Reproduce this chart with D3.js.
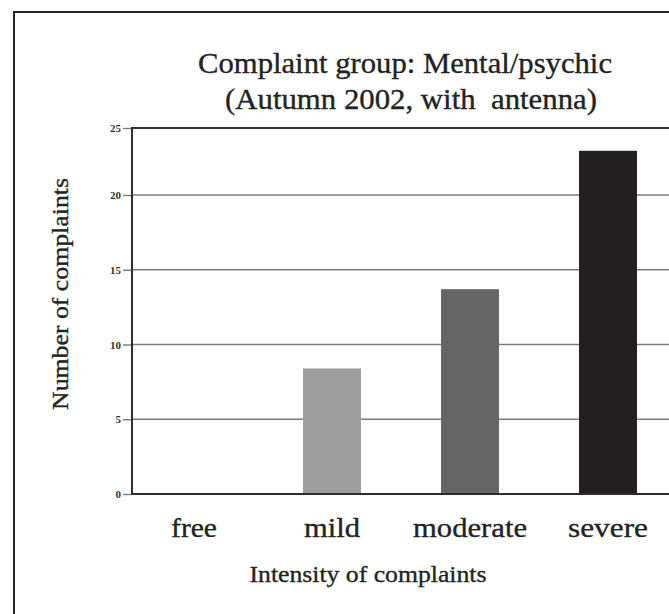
<!DOCTYPE html>
<html>
<head>
<meta charset="utf-8">
<script src="https://cdn.jsdelivr.net/npm/d3@7"></script>
<style>
  html, body { margin: 0; padding: 0; background: #ffffff; }
  svg { display: block; }
</style>
</head>
<body>
<svg id="chart" width="669" height="614"></svg>
<script>
// ---- data ----
const categories = ["free", "mild", "moderate", "severe"];
const values = [0, 8.4, 13.7, 23.3];
const barColors = ["#ffffff", "#9b9d9f", "#656667", "#231f20"];
const yTicks = [0, 5, 10, 15, 20, 25];
const titleLines = ["Complaint group: Mental/psychic", "(Autumn 2002, with  antenna)"];
const xTitle = "Intensity of complaints";
const yTitle = "Number of complaints";

// ---- layout ----
const serif = "'Liberation Serif'";
const ink = "#232323";
const svg = d3.select("#chart");
const plotLeft = 132, plotBottom = 494, plotRight = 700;

const x = d3.scaleBand().domain(categories).range([125, 677]).padding(0);
const y = d3.scaleLinear().domain([0, 20, 25]).range([plotBottom, 195, 128]);
const barW = x.bandwidth() * 0.42;

function styleText(sel, size) {
  return sel.style("font-family", serif).attr("font-size", size)
    .attr("fill", ink).attr("stroke", ink).attr("stroke-width", 0.35)
    .style("white-space", "pre");
}

// outer border
svg.append("rect")
  .attr("x", 14).attr("y", 12).attr("width", 700).attr("height", 700)
  .attr("fill", "#ffffff").attr("stroke", "#262626").attr("stroke-width", 2);

// title
const titleMeta = [{y: 73, cx: 405, w: 414}, {y: 109, cx: 411, w: 372}];
styleText(svg.selectAll("text.title").data(titleLines).enter().append("text"), 29)
  .attr("class", "title")
  .attr("x", (d, i) => titleMeta[i].cx)
  .attr("y", (d, i) => titleMeta[i].y)
  .attr("text-anchor", "middle")
  .attr("textLength", (d, i) => titleMeta[i].w)
  .attr("lengthAdjust", "spacingAndGlyphs")
  .text(d => d);

// gridlines
svg.append("g").selectAll("line").data(yTicks.filter(t => t > 0 && t < 25)).enter().append("line")
  .attr("x1", plotLeft).attr("x2", plotRight)
  .attr("y1", d => y(d)).attr("y2", d => y(d))
  .attr("stroke", "#7a7a7a").attr("stroke-width", 1.6);

// y axis
const yAxis = d3.axisLeft(y).tickValues(yTicks).tickSize(9).tickPadding(2).tickFormat(d3.format("d"));
const gy = svg.append("g").attr("transform", `translate(${plotLeft},0)`).call(yAxis);
gy.select(".domain").remove();
gy.selectAll(".tick line").attr("stroke", "#7a7a7a").attr("stroke-width", 1.4);
gy.selectAll(".tick text")
  .style("font-family", serif)
  .attr("font-size", 11).attr("font-weight", "bold").attr("fill", "#333");

// bars
svg.append("g").selectAll("rect").data(categories).enter().append("rect")
  .attr("x", d => x(d) + (x.bandwidth() - barW) / 2)
  .attr("width", barW)
  .attr("y", (d, i) => y(values[i]))
  .attr("height", (d, i) => y(0) - y(values[i]))
  .attr("fill", (d, i) => barColors[i]);

// frame: left, top, bottom
svg.append("path")
  .attr("d", `M${plotRight},${y(25)}H${plotLeft}V${y(0)}H${plotRight}`)
  .attr("fill", "none").attr("stroke", "#2e2e2e").attr("stroke-width", 2);

// x labels
const xLabelW = {free: 46, mild: 56, moderate: 114, severe: 80};
const xAxis = d3.axisBottom(x).tickSize(0).tickPadding(0);
const gx = svg.append("g").attr("transform", `translate(0,${plotBottom})`).call(xAxis);
gx.select(".domain").remove();
styleText(gx.selectAll(".tick text"), 27)
  .attr("dy", null).attr("y", 43)
  .attr("textLength", d => xLabelW[d])
  .attr("lengthAdjust", "spacingAndGlyphs");

// axis titles
styleText(svg.append("text"), 24)
  .attr("x", 368).attr("y", 582)
  .attr("text-anchor", "middle")
  .attr("textLength", 237).attr("lengthAdjust", "spacingAndGlyphs")
  .text(xTitle);

styleText(svg.append("text"), 23)
  .attr("transform", "translate(68,294) rotate(-90)")
  .attr("text-anchor", "middle")
  .attr("textLength", 232).attr("lengthAdjust", "spacingAndGlyphs")
  .text(yTitle);
</script>
</body>
</html>
